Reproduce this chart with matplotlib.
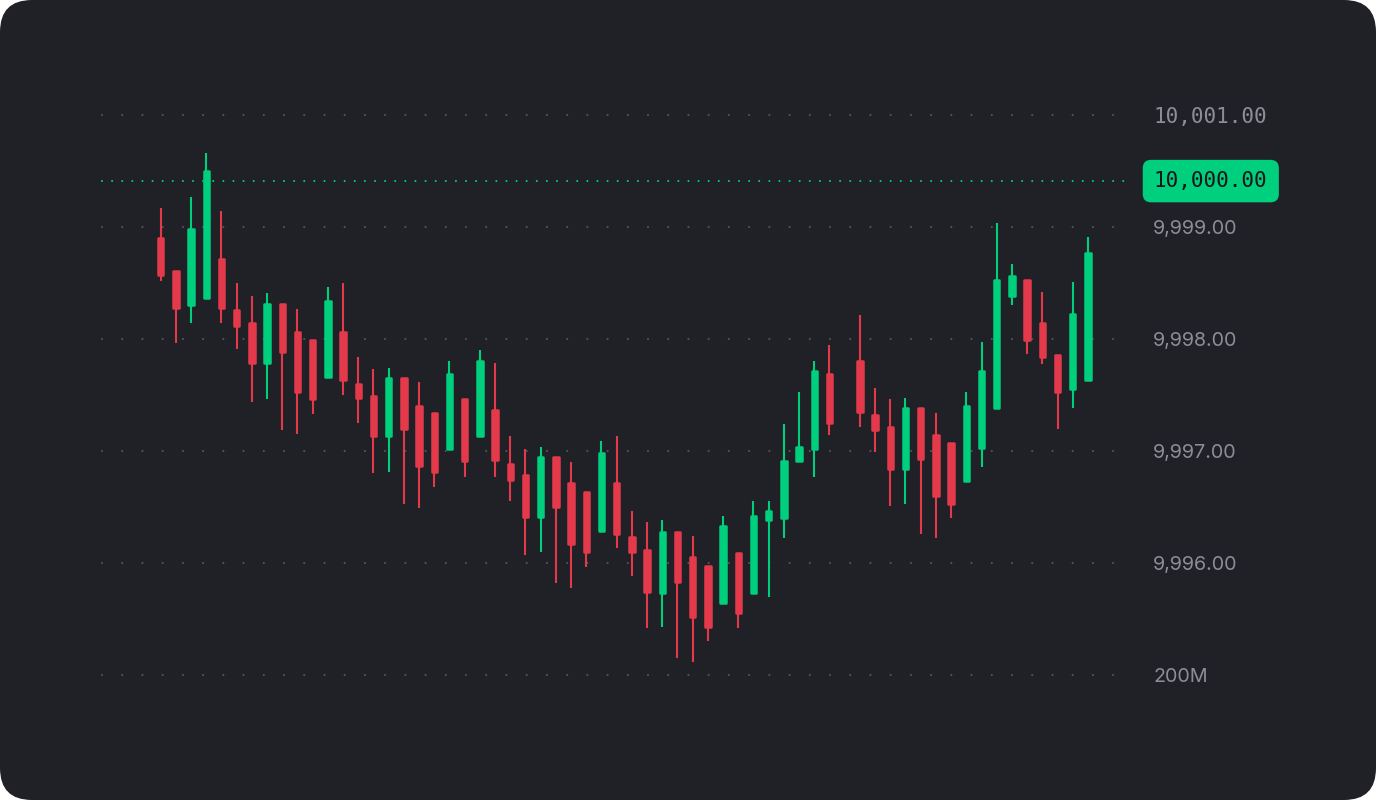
import numpy as np
import matplotlib
matplotlib.use("Agg")
import matplotlib.pyplot as plt
from matplotlib.patches import FancyBboxPatch

plt.rcParams['lines.scale_dashes'] = False

# ---------------- data (NaN = empty slot) ----------------
nan = np.nan
opens = [9998.90, 9998.61, 9998.30, 9998.37, 9998.71, 9998.26, 9998.14, 9997.79, 9998.31, 9998.06,
         9997.99, 9997.66, 9998.06, 9997.60, 9997.49, 9997.13, 9997.65, 9997.40, 9997.34, 9997.02,
         9997.46, 9997.13, 9997.37, 9996.88, 9996.79, 9996.41, 9996.95, 9996.71, 9996.63, 9996.29,
         9996.71, 9996.23, 9996.12, 9995.73, 9996.28, 9996.05, 9995.97, 9995.64, 9996.09, 9995.73,
         9996.38, 9996.40, 9996.91, 9997.02, 9997.69, nan, 9997.80, 9997.32, 9997.21, 9996.84,
         9997.38, 9997.14, 9997.07, 9996.73, 9997.03, 9997.38, 9998.38, 9998.53, 9998.14, 9997.86,
         9997.55, 9997.63]
highs = [9999.17, 9998.61, 9999.27, 9999.66, 9999.14, 9998.50, 9998.38, 9998.41, 9998.31, 9998.27,
         9997.99, 9998.46, 9998.50, 9997.84, 9997.73, 9997.74, 9997.65, 9997.62, 9997.34, 9997.80,
         9997.46, 9997.90, 9997.79, 9997.13, 9997.02, 9997.04, 9996.95, 9996.90, 9996.63, 9997.09,
         9997.13, 9996.46, 9996.37, 9996.38, 9996.28, 9996.24, 9995.97, 9996.42, 9996.09, 9996.55,
         9996.55, 9997.24, 9997.53, 9997.80, 9997.95, nan, 9998.21, 9997.56, 9997.46, 9997.47,
         9997.38, 9997.34, 9997.07, 9997.53, 9997.97, 9999.04, 9998.67, 9998.53, 9998.42, 9997.86,
         9998.51, 9998.91]
lows = [9998.52, 9997.96, 9998.14, 9998.37, 9998.14, 9997.91, 9997.44, 9997.46, 9997.19, 9997.15,
        9997.33, 9997.66, 9997.50, 9997.25, 9996.80, 9996.81, 9996.53, 9996.49, 9996.68, 9997.02,
        9996.77, 9997.13, 9996.77, 9996.55, 9996.07, 9996.10, 9995.82, 9995.78, 9995.96, 9996.29,
        9996.13, 9995.88, 9995.42, 9995.43, 9995.15, 9995.12, 9995.30, 9995.64, 9995.42, 9995.73,
        9995.70, 9996.22, 9996.91, 9996.77, 9997.14, nan, 9997.21, 9996.99, 9996.51, 9996.53,
        9996.26, 9996.22, 9996.40, 9996.73, 9996.86, 9997.38, 9998.30, 9997.87, 9997.78, 9997.20,
        9997.38, 9997.63]
closes = [9998.57, 9998.28, 9998.98, 9999.50, 9998.28, 9998.12, 9997.79, 9998.31, 9997.88, 9997.53,
          9997.46, 9998.34, 9997.63, 9997.47, 9997.13, 9997.65, 9997.20, 9996.87, 9996.81, 9997.69,
          9996.91, 9997.80, 9996.92, 9996.74, 9996.41, 9996.95, 9996.50, 9996.17, 9996.10, 9996.98,
          9996.26, 9996.10, 9995.74, 9996.28, 9995.83, 9995.52, 9995.43, 9996.33, 9995.55, 9996.42,
          9996.46, 9996.91, 9997.04, 9997.71, 9997.25, nan, 9997.35, 9997.19, 9996.84, 9997.38,
          9996.93, 9996.60, 9996.53, 9997.40, 9997.71, 9998.53, 9998.56, 9997.99, 9997.84, 9997.53,
          9998.22, 9998.77]

tick_values = [9995, 9996, 9997, 9998, 9999, 10000]
tick_labels = ["200M", "9,996.00", "9,997.00", "9,998.00", "9,999.00", "10,001.00"]
current_price = 9999.41
current_label = "10,000.00"

# ---------------- style ----------------
BG = '#202126'
GREEN = '#00CF7D'
RED = '#E3394A'
GRID = '#50535c'
LABEL = '#8b8e96'

W, H = 1376, 800
fig = plt.figure(figsize=(W / 100, H / 100), dpi=100)
fig.patch.set_facecolor('white')

bg = fig.add_axes([0, 0, 1, 1])
bg.set_xlim(0, W)
bg.set_ylim(H, 0)
bg.axis('off')
bg.add_patch(FancyBboxPatch((0, 0), W, H, boxstyle='round,pad=0,rounding_size=32',
                            fc=BG, ec='none'))

ax = fig.add_axes([100 / W, 1 - 690 / H, 1025 / W, 590 / H])
ax.patch.set_alpha(0)
for s in ax.spines.values():
    s.set_visible(False)

n = len(opens)
x = np.arange(n)
ax.set_xlim(-3.99, 63.44)
ax.set_ylim(9994.866, 10000.134)

# dotted grid
for v in tick_values:
    ax.axhline(v, xmin=2 / 1025, xmax=0.997, color=GRID, lw=1.6,
               linestyle=(0, (0.01, 14.55)), dash_capstyle='round', zorder=1)
ax.axhline(current_price, xmin=2 / 1025, xmax=1.003, color=GREEN, lw=1.5,
           linestyle=(0, (0.01, 7.27)), dash_capstyle='round', zorder=1)

o = np.array(opens)
c = np.array(closes)
hi = np.array(highs)
lo = np.array(lows)
valid = ~np.isnan(o)
up = (c >= o) & valid
dn = (c < o) & valid

for mask, col in ((up, GREEN), (dn, RED)):
    ax.vlines(x[mask], lo[mask], hi[mask], colors=col, lw=1.5, zorder=2)
    ax.bar(x[mask], np.abs(c[mask] - o[mask]), bottom=np.minimum(o[mask], c[mask]),
           width=0.36, color=col, edgecolor=col, lw=1.8, joinstyle='round', zorder=3)

# axis labels on the right
ax.yaxis.tick_right()
ax.set_yticks(tick_values)
ax.set_yticklabels(tick_labels)
ax.tick_params(axis='y', length=0, pad=20.2, labelsize=14.2, labelcolor=LABEL)
ax.tick_params(axis='x', bottom=False, labelbottom=False)
for lbl in ax.get_yticklabels():
    if lbl.get_text().startswith("10,"):
        lbl.set_fontfamily('DejaVu Sans Mono')
        lbl.set_fontsize(15)
    else:
        lbl.set_fontfamily('Inter')

ax.text(1 + 29 / 1025, current_price, current_label, transform=ax.get_yaxis_transform(),
        ha='left', va='center', family='DejaVu Sans Mono', fontsize=15, color='#15161a',
        bbox=dict(boxstyle='round,pad=0.54,rounding_size=0.4', fc=GREEN, ec='none'),
        zorder=5)

fig.savefig('out.png', dpi=100, facecolor=fig.get_facecolor())
